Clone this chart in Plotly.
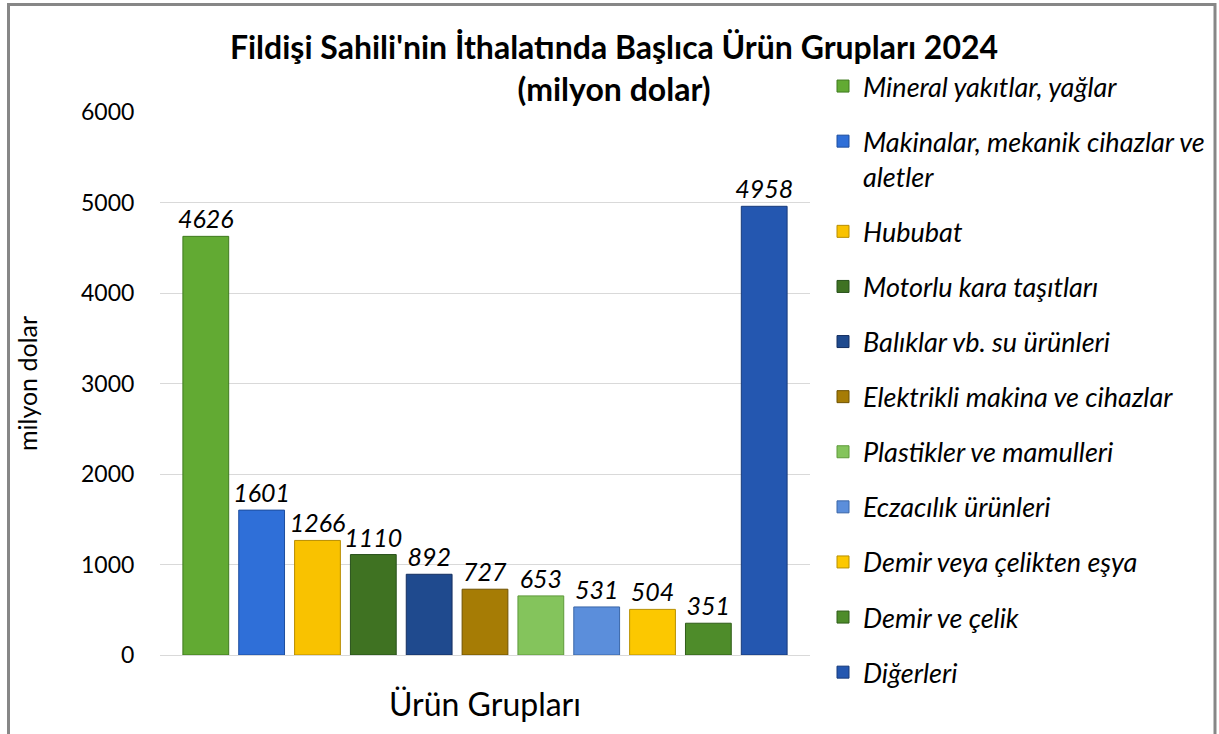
import plotly.graph_objects as go

categories = [
    "Mineral yakıtlar, yağlar",
    "Makinalar, mekanik cihazlar ve<br>aletler",
    "Hububat",
    "Motorlu kara taşıtları",
    "Balıklar vb. su ürünleri",
    "Elektrikli makina ve cihazlar",
    "Plastikler ve mamulleri",
    "Eczacılık ürünleri",
    "Demir veya çelikten eşya",
    "Demir ve çelik",
    "Diğerleri",
]
values = [4626, 1601, 1266, 1110, 892, 727, 653, 531, 504, 351, 4958]
colors = ["#62AA33", "#2F6FD8", "#F9C200", "#3F7222", "#1F4A8E", "#A67C05",
          "#84C45C", "#5B8EDB", "#FCC800", "#4E8C2A", "#2457B0"]
edges = ["#3F7A1E", "#1E4E9E", "#B88D00", "#27501A", "#142F60", "#6F5200",
         "#5E9A3A", "#3A66A8", "#B89000", "#2F5C18", "#173A7A"]
group_label = "Ürün Grupları"

FONT = "Lato"
W, H = 1219, 734
L, R, T, B = 160, 409, 112, 79

fig = go.Figure()
for i, (name, v) in enumerate(zip(categories, values)):
    fig.add_trace(go.Bar(
        x=[group_label], y=[v], name=name,
        legendgroup=f"g{i}",
        marker=dict(color=colors[i], line=dict(color=edges[i], width=1)),
        text=[str(v)], textposition="outside", constraintext="none",
        textfont=dict(family=FONT, size=25, color="#000000", style="italic"),
        cliponaxis=False,
    ))

pw = W - L - R
ph = H - T - B
def px2x(px):
    return (px - L) / pw
def py2y(py):
    return (H - B - py) / ph

fig.add_shape(type="rect", xref="paper", yref="paper",
              x0=px2x(8.5), x1=px2x(1215), y0=py2y(760), y1=py2y(4.5),
              line=dict(color="#878787", width=3), fillcolor="rgba(0,0,0,0)",
              layer="above")

fig.update_layout(
    width=W, height=H,
    margin=dict(l=L, r=R, t=T, b=B),
    paper_bgcolor="white", plot_bgcolor="white",
    barmode="group", bargap=0.055, bargroupgap=0.18,
    font=dict(family=FONT, color="#000000"),
    title=dict(
        text="<b>Fildişi Sahili'nin İthalatında Başlıca Ürün Grupları 2024</b><br><b>(milyon dolar)</b>",
        font=dict(family=FONT, size=32, color="#000000"),
        xref="container", x=614 / W, xanchor="center",
        yref="container", y=1 - 59 / H, yanchor="middle",
    ),
    showlegend=True,
    legend=dict(
        xref="container", x=823 / W, xanchor="left",
        yref="container", y=1 - 62 / H, yanchor="top",
        font=dict(family=FONT, size=27, color="#000000", style="italic"),
        traceorder="grouped", tracegroupgap=17, valign="top",
        bgcolor="rgba(0,0,0,0)", maxheight=720,
    ),
    xaxis=dict(
        range=[-0.5, 0.5],
        showgrid=False, showline=True, linecolor="#D9D9D9", linewidth=1,
        ticks="outside", ticklen=22, tickcolor="rgba(0,0,0,0)",
        tickfont=dict(family=FONT, size=32, color="#000000"),
    ),
    yaxis=dict(
        range=[0, 6000], dtick=1000, showgrid=True, gridcolor="#D9D9D9", gridwidth=1,
        zeroline=False, showline=False,
        ticks="outside", ticklen=20, tickcolor="rgba(0,0,0,0)",
        tickfont=dict(family=FONT, size=23, color="#000000"),
        title=dict(text="milyon dolar", font=dict(family=FONT, size=25, color="#000000"), standoff=36),
    ),
)

fig.write_html("out.html", config={"displayModeBar": False},
               post_script="document.body.style.margin='0';document.body.style.overflow='hidden';")
